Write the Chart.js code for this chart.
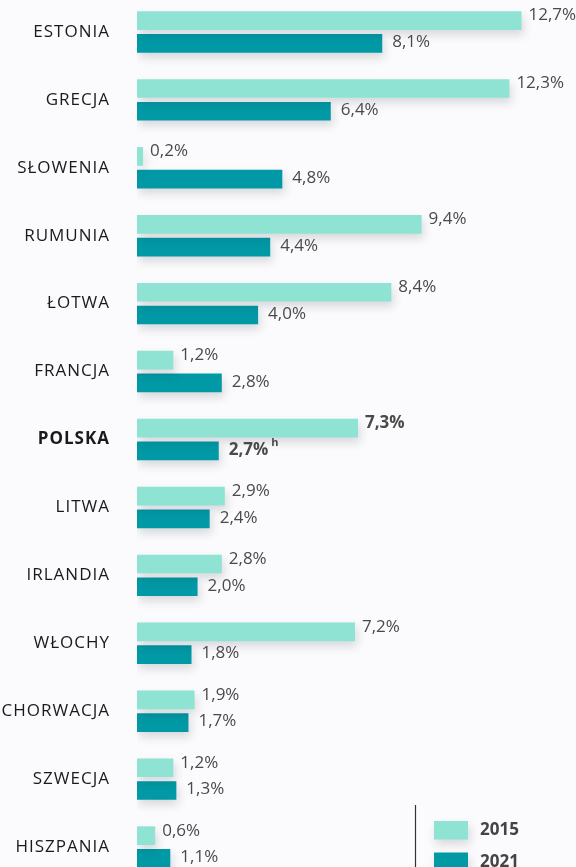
<!DOCTYPE html>
<html lang="pl">
<head>
<meta charset="utf-8">
<script src="https://cdn.jsdelivr.net/npm/chart.js@4.4.1/dist/chart.umd.min.js"></script>
<style>
  html, body { margin: 0; padding: 0; background: #fbfbfd; overflow: hidden; }
  #wrap { position: relative; width: 576px; height: 867px; overflow: hidden; }
  #chart { position: absolute; left: 0; top: -2px; }
</style>
</head>
<body>
<div id="wrap"><canvas id="chart" width="576" height="883"></canvas></div>
<script>
/* ---------- data ---------- */
const countries = [
    "ESTONIA", "GRECJA", "SŁOWENIA", "RUMUNIA", "ŁOTWA", "FRANCJA", "POLSKA",
    "LITWA", "IRLANDIA", "WŁOCHY", "CHORWACJA", "SZWECJA", "HISZPANIA"
];
const values2015 = [12.7, 12.3, 0.2, 9.4, 8.4, 1.2, 7.3, 2.9, 2.8, 7.2, 1.9, 1.2, 0.6];
const values2021 = [8.1, 6.4, 4.8, 4.4, 4.0, 2.8, 2.7, 2.4, 2.0, 1.8, 1.7, 1.3, 1.1];
const seriesLabels = ["2015", "2021"];
const highlighted = "POLSKA";
const notes2021 = { "POLSKA": "h" };

/* ---------- style ---------- */
const LIGHT = "#8ee3d3";
const DARK = "#0099a5";
const FONT = '"Open Sans", "DejaVu Sans", sans-serif';

function fmt(v) {
    return v.toFixed(1).replace(".", ",") + "%";
}

/* wider letter spacing for the country names only */
const spacingPlugin = {
    id: "tickSpacing",
    beforeDraw(chart) { chart.ctx.letterSpacing = "1px"; },
    beforeDatasetsDraw(chart) { chart.ctx.letterSpacing = "0px"; }
};

/* soft drop shadow under the bars */
const shadowPlugin = {
    id: "barShadow",
    beforeDatasetsDraw(chart) {
        const ctx = chart.ctx;
        ctx.save();
        ctx.shadowColor = "rgba(30, 40, 50, 0.16)";
        ctx.shadowBlur = 10;
        ctx.shadowOffsetX = 2;
        ctx.shadowOffsetY = 5;
    },
    afterDatasetsDraw(chart) {
        chart.ctx.restore();
    }
};

/* value labels at the end of each bar */
const valueLabels = {
    id: "valueLabels",
    afterDatasetsDraw(chart) {
        const ctx = chart.ctx;
        ctx.save();
        ctx.letterSpacing = "0px";
        ctx.textBaseline = "middle";
        ctx.textAlign = "left";
        ctx.fillStyle = "#4a4a4a";
        chart.data.datasets.forEach((ds, di) => {
            const meta = chart.getDatasetMeta(di);
            meta.data.forEach((bar, i) => {
                const bold = countries[i] === highlighted;
                ctx.font = (bold ? "bold " : "") + "17px " + FONT;
                const txt = fmt(ds.data[i]);
                const x = bar.x + (di === 0 ? 7 : 10);
                const y = bar.y + (di === 0 ? -5 : -1);
                ctx.fillText(txt, x, y);
                const note = di === 1 ? notes2021[countries[i]] : null;
                if (note) {
                    const w = ctx.measureText(txt).width;
                    ctx.font = "bold 11px " + FONT;
                    ctx.fillText(note, x + w + 3, y - 7);
                }
            });
        });
        ctx.restore();
    }
};

/* legend in the bottom right corner */
const cornerLegend = {
    id: "cornerLegend",
    afterDraw(chart) {
        const ctx = chart.ctx;
        ctx.save();
        ctx.letterSpacing = "0px";
        ctx.strokeStyle = "#333";
        ctx.lineWidth = 1.2;
        ctx.beginPath();
        ctx.moveTo(415.5, 807);
        ctx.lineTo(415.5, chart.height);
        ctx.stroke();

        chart.data.datasets.forEach((ds, i) => {
            const y = 823 + i * 31.5;
            ctx.save();
            ctx.shadowColor = "rgba(30, 40, 50, 0.16)";
            ctx.shadowBlur = 10;
            ctx.shadowOffsetX = 2;
            ctx.shadowOffsetY = 5;
            ctx.fillStyle = ds.backgroundColor;
            ctx.fillRect(434, y, 34, 18.5);
            ctx.restore();
            ctx.fillStyle = "#444";
            ctx.font = "bold 17px " + FONT;
            ctx.textBaseline = "middle";
            ctx.fillText(ds.label, 480, y + 9.5);
        });
        ctx.restore();
    }
};

const canvas = document.getElementById("chart");

new Chart(canvas, {
    type: "bar",
    data: {
        labels: countries,
        datasets: [
            {
                label: seriesLabels[0],
                data: values2015,
                backgroundColor: LIGHT,
                categoryPercentage: 0.67,
                barPercentage: 0.82
            },
            {
                label: seriesLabels[1],
                data: values2021,
                backgroundColor: DARK,
                categoryPercentage: 0.67,
                barPercentage: 0.82
            }
        ]
    },
    options: {
        indexAxis: "y",
        responsive: false,
        animation: false,
        layout: { padding: 0 },
        plugins: {
            legend: { display: false },
            tooltip: { enabled: false }
        },
        scales: {
            x: { display: false, min: 0, max: 14.5 },
            y: {
                afterFit(scale) {
                    scale.width = 137;
                    scale.paddingTop = 0;
                    scale.paddingBottom = 0;
                },
                grid: { display: false, drawTicks: false },
                border: { display: false },
                ticks: {
                    padding: 27,
                    color: "#1a1a1a",
                    font: (ctx) => ({
                        family: FONT,
                        size: 17,
                        weight: countries[ctx.index] === highlighted ? "bold" : "normal"
                    })
                }
            }
        }
    },
    plugins: [spacingPlugin, shadowPlugin, valueLabels, cornerLegend]
});
</script>
</body>
</html>
